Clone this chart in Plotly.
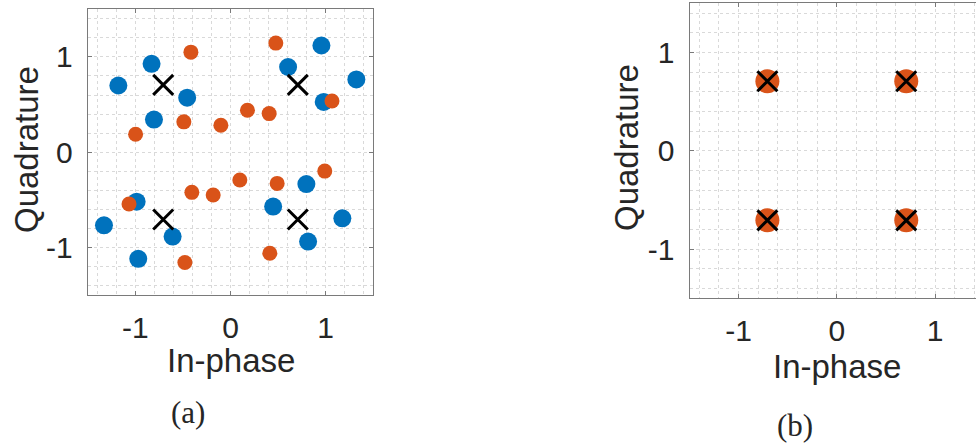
import plotly.graph_objects as go

# ---- data (a) ----
blue_a_x = [-1.178, -0.829, -0.455, -0.804, 0.605, 0.955, 1.322, 0.979,
            -0.986, -1.329, -0.608, -0.969, 0.448, 0.797, 1.175, 0.815]
blue_a_y = [0.700, 0.928, 0.572, 0.342, 0.894, 1.120, 0.764, 0.527,
            -0.520, -0.768, -0.887, -1.120, -0.572, -0.335, -0.695, -0.939]
orange_a_x = [-0.416, 0.476, -0.490, -0.997, -0.101, 0.178, 0.406, 1.066,
              -1.066, -0.406, -0.182, 0.098, 0.490, 0.990, 0.413, -0.479]
orange_a_y = [1.050, 1.145, 0.318, 0.188, 0.283, 0.440, 0.405, 0.537,
              -0.545, -0.422, -0.450, -0.293, -0.328, -0.199, -1.061, -1.159]
# ---- data (b) ----
orange_b_x = [-0.707, 0.707, -0.707, 0.707]
orange_b_y = [0.707, 0.707, -0.707, -0.707]
# reference constellation
ref_x = [-0.707, 0.707, -0.707, 0.707]
ref_y = [0.707, 0.707, -0.707, -0.707]

tick_vals = [-1, 0, 1]
tick_text = ["-1", "0", "1"]

BLUE = "#0072BD"
ORANGE = "#D95319"
AX = "#7a7a7a"
GRID = "#d9d9d9"

W, H = 976, 443

fig = go.Figure()
fig.add_trace(go.Scatter(x=blue_a_x, y=blue_a_y, mode="markers",
                         marker=dict(color=BLUE, size=18, line=dict(width=0)),
                         xaxis="x", yaxis="y", showlegend=False))
fig.add_trace(go.Scatter(x=orange_a_x, y=orange_a_y, mode="markers",
                         marker=dict(color=ORANGE, size=15, line=dict(width=0)),
                         xaxis="x", yaxis="y", showlegend=False))
fig.add_trace(go.Scatter(x=ref_x, y=ref_y, mode="markers",
                         marker=dict(symbol="x-thin", size=20, line=dict(width=3, color="black")),
                         xaxis="x", yaxis="y", showlegend=False))
fig.add_trace(go.Scatter(x=orange_b_x, y=orange_b_y, mode="markers",
                         marker=dict(color=ORANGE, size=24, line=dict(width=0)),
                         xaxis="x2", yaxis="y2", showlegend=False))
fig.add_trace(go.Scatter(x=ref_x, y=ref_y, mode="markers",
                         marker=dict(symbol="x-thin", size=20, line=dict(width=3, color="black")),
                         xaxis="x2", yaxis="y2", showlegend=False))

tickfont = dict(family="Liberation Sans, Arial, sans-serif", size=30, color="#262626")

def axis(rng, domain, anchor, mirror, standoff):
    return dict(range=rng, domain=domain, anchor=anchor, automargin=False,
                tickmode="array", tickvals=tick_vals, ticktext=tick_text,
                ticks="inside", ticklen=4, tickcolor=AX, tickwidth=1,
                showline=True, linecolor=AX, linewidth=1, mirror=mirror,
                showgrid=True, gridcolor=GRID, griddash="dot", gridwidth=1,
                minor=dict(dtick=0.2, tick0=0, showgrid=True, gridcolor=GRID,
                           griddash="dot", gridwidth=1, ticks=""),
                zeroline=False, tickfont=tickfont, ticklabelstandoff=standoff,
                fixedrange=True)

# left panel pixel geometry
l_x0, l_x1 = 87.7, 373.3
l_top, l_bot = 9.3, 295.0
# right panel
r_x0 = 689.5
r_top, r_bot = 3.3, 298.3
r_xmax = (W - 836.7) / 98.3

fig.update_layout(
    template="none",
    width=W, height=H, margin=dict(l=0, r=0, t=0, b=0, autoexpand=False),
    paper_bgcolor="white", plot_bgcolor="white",
    xaxis=axis([-1.5, 1.5], [l_x0 / W, l_x1 / W], "y", "ticks", 6),
    yaxis=axis([-1.5, 1.5], [1 - l_bot / H, 1 - l_top / H], "x", "ticks", 8),
    xaxis2=axis([-1.5, r_xmax], [r_x0 / W, 1.0], "y2", "ticks", 6),
    yaxis2=axis([-1.5, 1.5], [1 - r_bot / H, 1 - r_top / H], "x2", False, 8),
)

labfont = dict(family="Liberation Sans, Arial, sans-serif", size=33, color="#262626")
capfont = dict(family="Liberation Serif, DejaVu Serif, serif", size=31, color="#262626")

def ann(text, x, y, font, angle=0):
    fig.add_annotation(text=text, x=x / W, y=1 - y / H, xref="paper", yref="paper",
                       showarrow=False, font=font, textangle=angle,
                       xanchor="center", yanchor="middle")

ann("In-phase", 230.7, 360, labfont)
ann("In-phase", 836.7, 366.5, labfont)
ann("Quadrature", 26, 150, labfont, -90)
ann("Quadrature", 626, 148, labfont, -90)
ann("(a)", 188, 412, capfont)
ann("(b)", 794.5, 425, capfont)

fig.write_html("out.html", config={"displayModeBar": False},
               post_script="document.body.style.margin='0px';document.body.style.overflow='hidden';")
